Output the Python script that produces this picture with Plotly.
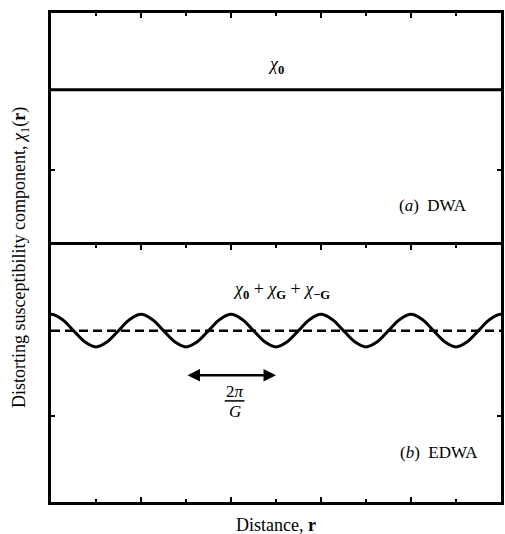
import plotly.graph_objects as go

# ---- data ----
dist_a = [0, 10]
chi0_a = [2.02, 2.02]                      # panel (a): constant chi_0

dist_b = [-0.5 + i * 0.25 for i in range(45)]   # panel (b) sample positions (edge-to-edge and a bit beyond)
chi_b = [2.00, 2.13,
         2.19, 2.13, 2.00, 1.87, 1.81, 1.87, 2.00, 2.13,
         2.19, 2.13, 2.00, 1.87, 1.81, 1.87, 2.00, 2.13,
         2.19, 2.13, 2.00, 1.87, 1.81, 1.87, 2.00, 2.13,
         2.19, 2.13, 2.00, 1.87, 1.81, 1.87, 2.00, 2.13,
         2.19, 2.13, 2.00, 1.87, 1.81, 1.87, 2.00, 2.13,
         2.19, 2.13, 2.00]
mean_b = [2.0, 2.0]                        # dashed mean level

FONT = "Liberation Serif, Times New Roman, serif"

fig = go.Figure()
fig.add_trace(go.Scatter(x=dist_a, y=chi0_a, mode="lines",
                         line=dict(color="black", width=3),
                         xaxis="x", yaxis="y", showlegend=False, hoverinfo="skip"))
fig.add_trace(go.Scatter(x=dist_b, y=chi_b, mode="lines",
                         line=dict(color="black", width=3, shape="spline", smoothing=1.0),
                         xaxis="x2", yaxis="y2", showlegend=False, hoverinfo="skip"))
fig.add_trace(go.Scatter(x=dist_a, y=mean_b, mode="lines",
                         line=dict(color="black", width=2.5, dash="9px,5px"),
                         xaxis="x2", yaxis="y2", showlegend=False, hoverinfo="skip"))

split = 0.5256
overlap = 0.006
xcommon = dict(range=[0, 10], showticklabels=False, ticks="inside", tickvals=[2, 4, 6, 8],
               ticklen=5, tickwidth=2, tickcolor="black", showline=True, linewidth=3,
               linecolor="black", mirror="allticks", showgrid=False, zeroline=False,
               minor=dict(tickvals=[1, 3, 5, 7, 9], ticks="inside", ticklen=3,
                          tickwidth=2, tickcolor="black", showgrid=False))
ycommon = dict(range=[0, 3], showticklabels=False, ticks="inside", tickvals=[1],
               ticklen=4, tickwidth=2, tickcolor="black", showline=True, linewidth=3,
               linecolor="black", mirror="allticks", showgrid=False, zeroline=False)

fig.update_layout(
    width=505, height=534,
    margin=dict(l=51, r=1, t=13, b=32),
    paper_bgcolor="white", plot_bgcolor="white",
    font=dict(family=FONT, color="black", size=18),
    xaxis=dict(**xcommon, domain=[0, 1], anchor="y"),
    yaxis=dict(**ycommon, domain=[split - overlap, 1], anchor="x"),
    xaxis2=dict(**xcommon, domain=[0, 1], anchor="y2"),
    yaxis2=dict(**ycommon, domain=[0, split], anchor="x2"),
)

ann = []
ann.append(dict(x=5.01, y=2.33, xref="x", yref="y", showarrow=False,
                text="<i>χ</i><sub><b>0</b></sub>", font=dict(size=18)))
ann.append(dict(x=8.48, y=0.54, xref="x", yref="y", showarrow=False,
                text="(<i>a</i>)  DWA", font=dict(size=17)))
ann.append(dict(x=5.12, y=2.47, xref="x2", yref="y2", showarrow=False,
                text="<i>χ</i><sub><b>0</b></sub> + <i>χ</i><sub><b>G</b></sub> + <i>χ</i><sub><b>−G</b></sub>",
                font=dict(size=18)))
ann.append(dict(x=8.62, y=0.58, xref="x2", yref="y2", showarrow=False,
                text="(<i>b</i>)  EDWA", font=dict(size=17)))
# double-headed arrow (one period)
ann.append(dict(x=5.0, y=1.48, ax=3.0, ay=1.48, xref="x2", yref="y2",
                axref="x2", ayref="y2", text="", showarrow=True,
                arrowhead=2, startarrowhead=2, arrowside="end+start",
                arrowwidth=2.5, arrowsize=1, startarrowsize=1, arrowcolor="black"))
ann.append(dict(x=4.08, y=1.29, xref="x2", yref="y2", showarrow=False,
                text="2<i>π</i>", font=dict(size=17)))
ann.append(dict(x=4.08, y=1.06, xref="x2", yref="y2", showarrow=False,
                text="<i>G</i>", font=dict(size=17)))
# axis titles
ann.append(dict(x=0.501, y=-0.047, xref="paper", yref="paper", showarrow=False,
                text="Distance, <b>r</b>", font=dict(size=18), yanchor="middle"))
ann.append(dict(x=-0.068, y=0.50, xref="paper", yref="paper", showarrow=False,
                textangle=-90, xanchor="center", yanchor="middle",
                text="Distorting susceptibility component, <i>χ</i><sub>1</sub>(<b>r</b>)",
                font=dict(size=18)))
fig.update_layout(annotations=ann)

# fraction bar of 2π/G
fig.add_shape(type="line", xref="x2", yref="y2", x0=3.86, x1=4.30, y0=1.18, y1=1.18,
              line=dict(color="black", width=1.5))

fig.write_html("out.html")
